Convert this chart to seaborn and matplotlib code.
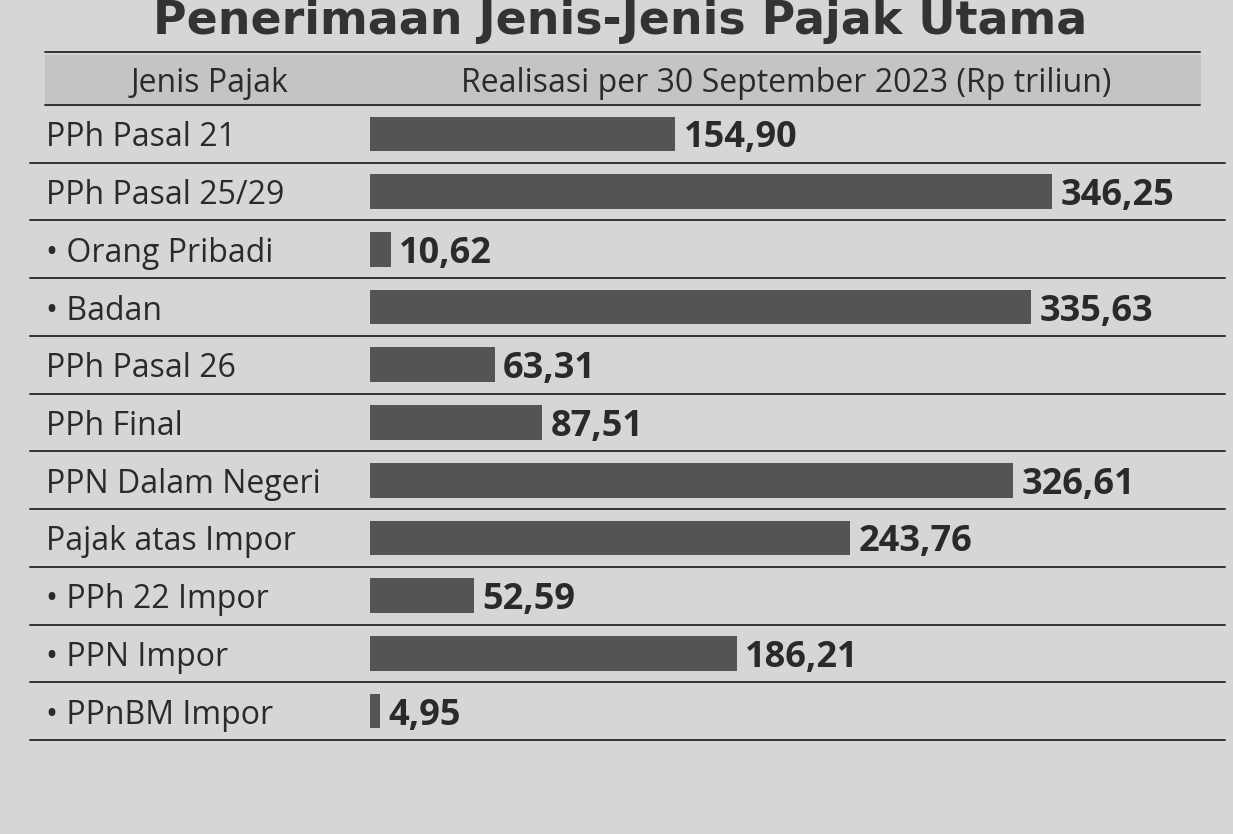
import matplotlib
matplotlib.use("Agg")
import matplotlib.pyplot as plt
import seaborn as sns
import pandas as pd
from matplotlib.lines import Line2D

title = "Penerimaan Jenis-Jenis Pajak Utama"
header_left = "Jenis Pajak"
header_right = "Realisasi per 30 September 2023 (Rp triliun)"
categories = ["PPh Pasal 21", "PPh Pasal 25/29", "• Orang Pribadi", "• Badan",
              "PPh Pasal 26", "PPh Final", "PPN Dalam Negeri", "Pajak atas Impor",
              "• PPh 22 Impor", "• PPN Impor", "• PPnBM Impor"]
values = [154.90, 346.25, 10.62, 335.63, 63.31, 87.51, 326.61, 243.76, 52.59, 186.21, 4.95]

df = pd.DataFrame({"jenis": categories, "nilai": values})

sns.set_theme(style="white")
plt.rcParams["font.family"] = ["Open Sans", "DejaVu Sans"]

bg = "#d6d6d6"
fig = plt.figure(figsize=(12.33, 8.34), dpi=100, facecolor=bg)
ax = fig.add_axes([370/1233, 1-740/834, 830/1233, 635/834])
ax.set_facecolor("none")

sns.barplot(data=df, x="nilai", y="jenis", order=categories, orient="h",
            color="#545454", width=0.6, saturation=1, edgecolor="#545454",
            linewidth=0, ax=ax)
ax.set_xlim(0, 830/1.97)
ax.set_ylim(len(categories)-0.5, -0.5)
for s in ax.spines.values():
    s.set_visible(False)
ax.set_xticks([]); ax.set_yticks([])
ax.set_xlabel(""); ax.set_ylabel("")

labels = [f"{v:.2f}".replace(".", ",") for v in values]
texts = ax.bar_label(ax.containers[0], labels=labels, padding=6, fontsize=26,
                     fontweight="bold", color="#2a2a2a")
for t in texts:
    t.set_va("center_baseline")

ytr = ax.get_yaxis_transform()
for i, c in enumerate(categories):
    ax.text(-0.39, i, c, transform=ytr, ha="left", va="center_baseline",
            fontsize=23, color="#2a2a2a")
# row separators
for b in [i + 0.5 for i in range(len(categories))]:
    ax.plot([-0.41, 1.03], [b, b], transform=ytr, color="#333333", lw=1.4,
            clip_on=False)

# header band
fx0, fx1 = 45/1233, 1200/1233
fig.patches.append(plt.Rectangle((fx0, 1-105/834), fx1-fx0, 50/834,
                                 transform=fig.transFigure, color="#c4c4c4",
                                 zorder=0))
for yy in [52, 105]:
    fig.add_artist(Line2D([fx0, fx1], [1-yy/834, 1-yy/834],
                          transform=fig.transFigure, color="#333333", lw=1.4))
fig.text(210/1233, 1-80/834, header_left, ha="center", va="center_baseline",
         fontsize=23, color="#2a2a2a")
fig.text(786/1233, 1-80/834, header_right, ha="center", va="center_baseline",
         fontsize=23, color="#2a2a2a")
fig.text(620/1233, 1-22/834, title, ha="center", va="center", fontsize=33,
         fontweight="bold", family="DejaVu Sans", color="#333333")

fig.savefig("out.png", dpi=100, facecolor=bg)
